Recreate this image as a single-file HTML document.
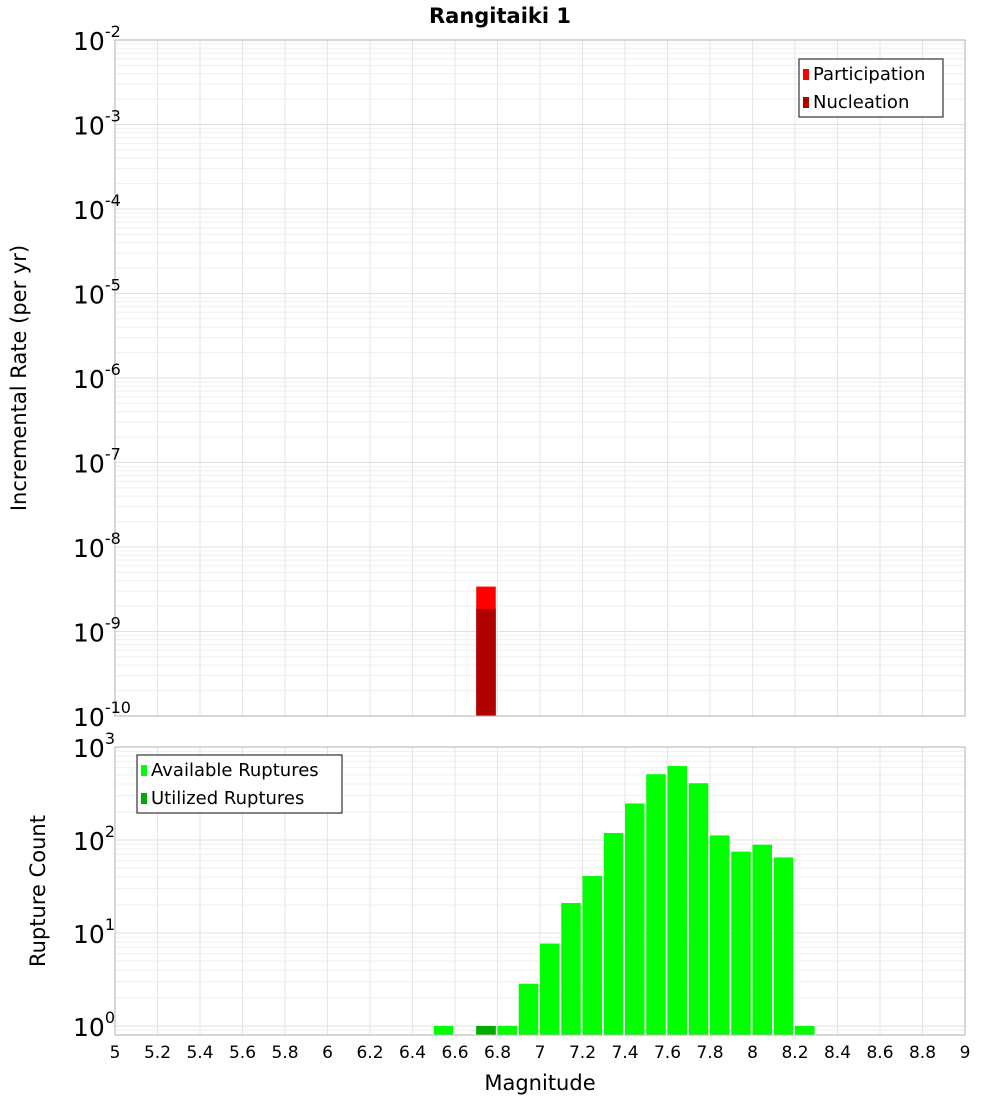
<!DOCTYPE html>
<html><head><meta charset="utf-8"><style>
body{margin:0;background:#fff;font-family:"DejaVu Sans","Liberation Sans",sans-serif}
svg text{font-family:"DejaVu Sans","Liberation Sans",sans-serif}
</style></head><body>
<svg id="c" width="1000" height="1100" xmlns="http://www.w3.org/2000/svg">
<text x="500" y="23" text-anchor="middle" font-size="21" font-weight="bold">Rangitaiki 1</text>
</svg>
<script>
const xTicks=[5,5.2,5.4,5.6,5.8,6,6.2,6.4,6.6,6.8,7,7.2,7.4,7.6,7.8,8,8.2,8.4,8.6,8.8,9];
const topExps=[-2,-3,-4,-5,-6,-7,-8,-9,-10];
const botExps=[3,2,1,0];
const rateMags=[6.75];
const participation=[3.4e-9];
const nucleation=[1.85e-9];
const countMags=[6.55,6.75,6.85,6.95,7.05,7.15,7.25,7.35,7.45,7.55,7.65,7.75,7.85,7.95,8.05,8.15,8.25];
const available=[1,1,1,2.85,7.7,21,41,119,247,510,624,408,112,75,89,65,1];
const utilizedMags=[6.75];
const utilized=[1];

const NS="http://www.w3.org/2000/svg";
const svg=document.getElementById('c');
function el(t,a,p){const e=document.createElementNS(NS,t);for(const k in a)e.setAttribute(k,a[k]);(p||svg).appendChild(e);return e;}
const X0=115,X1=965;
const xs=v=>X0+(v-5)/4*(X1-X0);
const T0=40,T1=716;
const yT=v=>T0+(-2-Math.log10(v))*(T1-T0)/8;
const B0=747,B1=1035;
const yB=v=>1026-Math.log10(v)*93;

function grid(y0,y1,decLo,decHi,yf){
  for(let d=decLo;d<decHi;d++)for(let m=1;m<10;m++){
    const y=yf(m*Math.pow(10,d));
    if(y<y0-0.5||y>y1+0.5)continue;
    const l=el('line',{x1:X0,x2:X1,y1:y,y2:y,stroke:m==1?'#e0e0e0':'#efefef','stroke-width':1});
    
    
  }
  xTicks.forEach(t=>{const l=el('line',{x1:xs(t),x2:xs(t),y1:y0,y2:y1,stroke:'#e6e6e6'});
    
    });
}
grid(T0,T1,-10,-2,yT);
grid(B0,B1,-1,3,yB);

// top bars
const bw=19.5;
rateMags.forEach((m,i)=>{
  const x=xs(m-0.05);
  const p=el('rect',{x:x,y:yT(participation[i]),width:bw,height:T1-yT(participation[i]),fill:'#ff0000'});
  
  
  const n=el('rect',{x:x,y:yT(nucleation[i]),width:bw,height:T1-yT(nucleation[i]),fill:'#b00000'});
  
  
});
countMags.forEach((m,i)=>{
  const y=yB(available[i]);
  const r=el('rect',{x:xs(m-0.05),y:y,width:bw,height:B1-y,fill:'#00ff00'});
  
  
});
utilizedMags.forEach((m,i)=>{
  const y=yB(utilized[i]);
  const r=el('rect',{x:xs(m-0.05),y:y,width:bw,height:B1-y,fill:'#00aa00'});
  
  
});
// frames
[[T0,T1,'top-plot-frame'],[B0,B1,'bottom-plot-frame']].forEach(f=>{
  const r=el('rect',{x:X0,y:f[0],width:X1-X0,height:f[1]-f[0],fill:'none',stroke:'#b0b0b0'});
  
  
});
// y tick labels
function ylab(e,y,name){
  const t=el('text',{x:73,y:y+10,'font-size':25});
  
  
  t.textContent='10';
  const s=el('tspan',{dy:-13,'font-size':16},t);s.textContent=String(e);
}
topExps.forEach(e=>ylab(e,yT(Math.pow(10,e)),'y-tick-label'));
botExps.forEach(e=>ylab(e,yB(Math.pow(10,e)),'y-tick-label'));
xTicks.forEach(t=>{
  const tx=el('text',{x:xs(t),y:1058,'text-anchor':'middle','font-size':17});
  
  
  tx.textContent=String(t);
});
// axis titles
let a=el('text',{x:540,y:1090,'text-anchor':'middle','font-size':21});


a.textContent='Magnitude';
a=el('text',{x:0,y:0,'text-anchor':'middle','font-size':21,transform:'translate(26,378) rotate(-90)'});


a.textContent='Incremental Rate (per yr)';
a=el('text',{x:0,y:0,'text-anchor':'middle','font-size':21,transform:'translate(45,891) rotate(-90)'});


a.textContent='Rupture Count';
// legends
function legend(x,y,w,items,name){
  const g=el('g',{});
  
  
  el('rect',{x:x,y:y,width:w,height:58,fill:'#fff',stroke:'#333','stroke-width':1.2},g);
  items.forEach((it,i)=>{
    el('rect',{x:x+4,y:y+10+i*28,width:6,height:11,fill:it[1]},g);
    const t=el('text',{x:x+14,y:y+21+i*28,'font-size':18},g);t.textContent=it[0];
  });
}
legend(799,59,144,[['Participation','#ff0000'],['Nucleation','#b00000']],'rate-legend');
legend(137,755,205,[['Available Ruptures','#00ff00'],['Utilized Ruptures','#00aa00']],'count-legend');
</script>
</body></html>
